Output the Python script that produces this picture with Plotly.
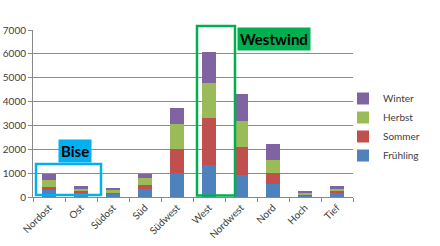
import plotly.graph_objects as go

categories = ["Nordost", "Ost", "Südost", "Süd", "Südwest", "West", "Nordwest", "Nord", "Hoch", "Tief"]
fruehling = [280, 180, 150, 340, 1000, 1330, 910, 560, 60, 150]
sommer = [140, 60, 30, 150, 1000, 1990, 1190, 450, 40, 100]
herbst = [280, 90, 110, 320, 1080, 1440, 1090, 530, 70, 100]
winter = [250, 150, 100, 140, 670, 1300, 1120, 700, 60, 120]
y_ticks = [0, 1000, 2000, 3000, 4000, 5000, 6000, 7000]

series = [("Frühling", fruehling, "#4F81BD"), ("Sommer", sommer, "#C0504D"),
          ("Herbst", herbst, "#9BBB59"), ("Winter", winter, "#8064A2")]

fig = go.Figure()
for name, vals, col in series:
    fig.add_trace(go.Bar(x=categories, y=vals, name=name, marker=dict(color=col, line=dict(width=0)), width=0.45))

# plot area in px: x 33..353, y 30..197
def px_x(p):
    return (p - 33) / 320
def px_y(p):
    return (197 - p) / 167

FONT = "Lato"
fig.update_layout(
    width=440, height=246, barmode="stack",
    margin=dict(l=33, r=87, t=30, b=49, autoexpand=False),
    paper_bgcolor="white", plot_bgcolor="white",
    font=dict(family=FONT, size=10, color="#404040"),
    legend=dict(x=px_x(343), y=px_y(127), xanchor="left", yanchor="middle", traceorder="reversed",
                font=dict(size=10, color="#404040"), itemwidth=30, tracegroupgap=0,
                bgcolor="rgba(0,0,0,0)"),
    xaxis=dict(tickangle=-45, showline=True, linecolor="#888", ticks="outside", tickson="boundaries",
               ticklen=4, tickcolor="#888", tickfont=dict(size=10), automargin=False),
    yaxis=dict(range=[0, 7000], tickvals=y_ticks, showgrid=True, gridcolor="#8c8c8c", gridwidth=1,
               showline=True, linecolor="#888", ticks="outside", ticklen=4, tickcolor="#888",
               tickfont=dict(size=10), zeroline=False, automargin=False),
    showlegend=True,
)

fig.add_shape(type="rect", xref="paper", yref="paper", x0=px_x(36), x1=px_x(101), y0=px_y(195), y1=px_y(164),
              line=dict(color="#00B0F0", width=2.5))
fig.add_shape(type="rect", xref="paper", yref="paper", x0=px_x(197), x1=px_x(235), y0=px_y(195.5), y1=px_y(26),
              line=dict(color="#00B050", width=2.5))
fig.add_annotation(xref="paper", yref="paper", x=px_x(75), y=px_y(151), xanchor="center", yanchor="middle",
                   text="<b>Bise</b>", showarrow=False,
                   bgcolor="#00B0F0", font=dict(size=15, color="black", family=FONT), borderpad=2)
fig.add_annotation(xref="paper", yref="paper", x=px_x(274), y=px_y(38.5), xanchor="center", yanchor="middle",
                   text="<b>Westwind</b>", showarrow=False,
                   bgcolor="#00B050", font=dict(size=15, color="black", family=FONT), borderpad=2)

fig.write_html("out.html")
